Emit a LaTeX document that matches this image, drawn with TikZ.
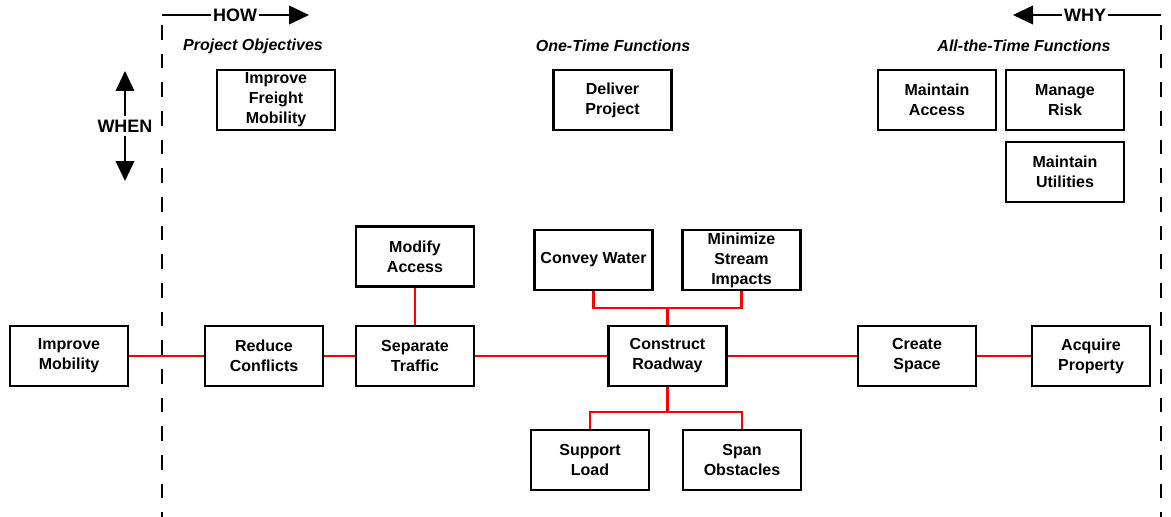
\documentclass[tikz,border=0pt]{standalone}
\usepackage{fontspec}
\setmainfont{Liberation Sans}
\usetikzlibrary{arrows.meta}
\begin{document}
\begin{tikzpicture}[x=0.75pt,y=-0.75pt,
  fbox/.style={draw=black,line width=1.8pt,minimum width=88.5pt,minimum height=45pt,
    align=center,font=\fontsize{12}{15}\selectfont\bfseries,inner sep=1pt},
  head/.style={font=\fontsize{12}{15}\selectfont\bfseries\itshape},
  dir/.style={font=\fontsize{13.5}{16}\selectfont\bfseries,inner sep=1pt},
  link/.style={draw=red,line width=1.8pt},
  divider/.style={line width=1.7pt,dash pattern=on 11pt off 10.5pt},
  bigarrow/.style={line width=1.3pt,-{Triangle[length=15pt,width=14pt]}}]
\useasboundingbox (0,0) rectangle (1171,517);
% dividers and direction labels
\coordinate (ltop) at (162,15);
\coordinate (ldash) at (162,25);
\coordinate (lbot) at (162,517);
\coordinate (rtop) at (1161,15);
\coordinate (rdash) at (1161,25);
\coordinate (rbot) at (1161,517);
\draw[divider] (ldash) -- (lbot);
\draw[divider] (rdash) -- (rbot);
\node[dir] (how) at (235,15) {HOW};
\coordinate (howtip) at (309,15);
\draw[line width=1.3pt] (ltop) -- (how.west);
\draw[bigarrow] (how.east) -- (howtip);
\node[dir] (why) at (1085,15) {WHY};
\coordinate (whytip) at (1013,15);
\draw[line width=1.3pt] (rtop) -- (why.east);
\draw[bigarrow] (why.west) -- (whytip);
\node[dir] (when) at (125,126) {WHEN};
\coordinate (whenup) at (125,71);
\coordinate (whendown) at (125,181);
\draw[bigarrow] (when.north) ++(0,-2) coordinate (wu) -- (whenup);
\draw[bigarrow] (when.south) ++(0,2) coordinate (wd) -- (whendown);
% headings
\node[head] (h1) at (253,46) {Project Objectives};
\node[head] (h2) at (613,46) {One-Time Functions};
\node[head] (h3) at (1024,46) {All-the-Time Functions};
% top boxes
\node[fbox] (ifm) at (276,100) {Improve\\Freight\\Mobility};
\node[fbox] (dp) at (612.5,100) {Deliver\\Project};
\node[fbox] (ma) at (937,100) {Maintain\\Access};
\node[fbox] (mr) at (1065,100) {Manage\\Risk};
\node[fbox] (mu) at (1065,172) {Maintain\\Utilities};
% main chain
\node[fbox] (im) at (69,356) {Improve\\Mobility};
\node[fbox] (rc) at (264,356) {Reduce\\Conflicts};
\node[fbox] (st) at (415,356) {Separate\\Traffic};
\node[fbox] (mac) at (415,256.5) {Modify\\Access};
\node[fbox] (cr) at (667.5,356) {Construct\\Roadway};
\node[fbox] (cw) at (593.5,260) {Convey Water};
\node[fbox] (msi) at (741.5,260) {Minimize\\Stream\\Impacts};
\node[fbox] (sl) at (590,460) {Support\\Load};
\node[fbox] (so) at (742,460) {Span\\Obstacles};
\node[fbox] (cs) at (917,356) {Create\\Space};
\node[fbox] (ap) at (1091,356) {Acquire\\Property};
% connectors
\draw[link] (im) -- (rc);
\draw[link] (rc) -- (st);
\draw[link] (st) -- (cr);
\draw[link] (cr) -- (cs);
\draw[link] (cs) -- (ap);
\draw[link] (mac) -- (st);
\coordinate (jtop) at (667.5,308);
\coordinate (jbot) at (667.5,412);
\draw[link] (cw.south) |- (jtop) -| (msi.south);
\draw[link] (jtop) -- (cr.north);
\draw[link] (cr.south) -- (jbot);
\draw[link] (sl.north) |- (jbot) -| (so.north);
\end{tikzpicture}
\end{document}
